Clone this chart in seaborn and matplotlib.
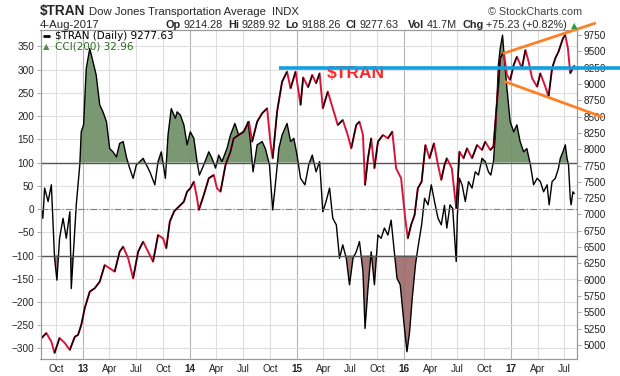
import numpy as np
import pandas as pd
import matplotlib
matplotlib.use("Agg")
import matplotlib.pyplot as plt
import matplotlib.dates as mdates
from matplotlib.collections import LineCollection
import seaborn as sns

# $TRAN daily close (roughly every 2 weeks)
price_dates = [
    "2012-08-12", "2012-08-29", "2012-09-15", "2012-09-26", "2012-10-13", "2012-10-31",
    "2012-11-17", "2012-12-04", "2012-12-15", "2012-12-26", "2013-01-07", "2013-01-24",
    "2013-02-10", "2013-02-27", "2013-03-16", "2013-04-02", "2013-04-19", "2013-05-06",
    "2013-05-18", "2013-06-04", "2013-06-21", "2013-07-08", "2013-07-25", "2013-08-11",
    "2013-08-28", "2013-09-14", "2013-10-01", "2013-10-12", "2013-10-24", "2013-11-08",
    "2013-11-24", "2013-12-11", "2013-12-22", "2014-01-02", "2014-01-14", "2014-01-25",
    "2014-01-31", "2014-02-17", "2014-03-06", "2014-03-23", "2014-04-03", "2014-04-15",
    "2014-05-02", "2014-05-19", "2014-05-30", "2014-06-16", "2014-07-03", "2014-07-21",
    "2014-08-01", "2014-08-18", "2014-09-04", "2014-09-21", "2014-10-02", "2014-10-10",
    "2014-10-25", "2014-11-11", "2014-11-28", "2014-12-10", "2014-12-27", "2015-01-13",
    "2015-01-22", "2015-02-08", "2015-02-22", "2015-03-07", "2015-03-19", "2015-03-30",
    "2015-04-16", "2015-05-03", "2015-05-20", "2015-06-06", "2015-06-23", "2015-07-05",
    "2015-07-22", "2015-08-02", "2015-08-14", "2015-08-21", "2015-08-31", "2015-09-11",
    "2015-09-22", "2015-10-04", "2015-10-21", "2015-11-07", "2015-11-22", "2015-12-05",
    "2015-12-22", "2016-01-05", "2016-01-14", "2016-01-25", "2016-02-06", "2016-02-17",
    "2016-03-01", "2016-03-14", "2016-03-28", "2016-04-12", "2016-04-26", "2016-05-07",
    "2016-05-18", "2016-05-26", "2016-06-12", "2016-06-27", "2016-07-08", "2016-07-22",
    "2016-08-03", "2016-08-20", "2016-09-06", "2016-09-23", "2016-10-04", "2016-10-21",
    "2016-11-01", "2016-11-13", "2016-11-18", "2016-11-24", "2016-12-06", "2016-12-17",
    "2016-12-28", "2017-01-09", "2017-01-20", "2017-02-06", "2017-02-18", "2017-03-01",
    "2017-03-13", "2017-03-30", "2017-04-10", "2017-04-27", "2017-05-08", "2017-05-20",
    "2017-05-31", "2017-06-11", "2017-06-26", "2017-07-04", "2017-07-13", "2017-07-21",
    "2017-07-29", "2017-08-04",
]
price_values = [
    5104, 5184, 5052, 4878, 5108, 5030,
    4925, 5128, 5154, 5307, 5567, 5818,
    5870, 5971, 6226, 6176, 6124, 6430,
    6507, 6329, 6022, 6430, 6584, 6430,
    6277, 6686, 6635, 6482, 6890, 7050,
    7120, 7196, 7350, 7401, 7503, 7248,
    7069, 7299, 7555, 7605, 7401, 7350,
    7758, 7962, 8167, 8218, 8269, 8422,
    8115, 8422, 8550, 8627, 8115, 7861,
    8575, 9035, 9188, 8933, 9188, 8678,
    9100, 8950, 9137, 9010, 9163, 8627,
    8882, 8627, 8371, 8448, 8218, 8014,
    8371, 8422, 8218, 7452, 7861, 8167,
    7708, 8115, 8218, 8167, 8269, 7708,
    7555, 6941, 6635, 6839, 6992, 7401,
    7503, 8065, 7861, 8091, 7758, 7529,
    7758, 7861, 7708, 7095, 7962, 7861,
    8014, 7861, 8065, 7988, 8115, 7988,
    8039, 8729, 8984, 9393, 9495, 9137,
    9061, 9290, 9418, 9240, 9520, 9341,
    9086, 8958, 9163, 8958, 8805, 9240,
    9393, 9495, 9699, 9750, 9546, 9163,
    9240, 9277.63,
]

# CCI(200)
cci_dates = [
    "2012-08-12", "2012-08-17", "2012-08-23", "2012-09-04", "2012-09-15", "2012-09-26",
    "2012-10-04", "2012-10-13", "2012-10-25", "2012-11-05", "2012-11-17", "2012-11-22",
    "2012-12-01", "2012-12-09", "2012-12-21", "2012-12-26", "2013-01-03", "2013-01-12",
    "2013-01-24", "2013-02-04", "2013-02-15", "2013-02-27", "2013-03-10", "2013-03-22",
    "2013-04-02", "2013-04-13", "2013-04-25", "2013-05-06", "2013-05-18", "2013-05-29",
    "2013-06-09", "2013-06-21", "2013-07-02", "2013-07-14", "2013-07-25", "2013-08-05",
    "2013-08-17", "2013-09-03", "2013-09-14", "2013-09-25", "2013-10-09", "2013-10-18",
    "2013-10-29", "2013-11-12", "2013-11-18", "2013-11-29", "2013-12-11", "2013-12-22",
    "2014-01-02", "2014-01-14", "2014-01-25", "2014-02-02", "2014-02-17", "2014-03-06",
    "2014-03-17", "2014-03-29", "2014-04-09", "2014-04-20", "2014-05-07", "2014-05-19",
    "2014-06-03", "2014-06-16", "2014-07-03", "2014-07-18", "2014-07-26", "2014-08-04",
    "2014-08-18", "2014-09-04", "2014-09-15", "2014-09-29", "2014-10-10", "2014-10-19",
    "2014-10-31", "2014-11-11", "2014-11-28", "2014-12-10", "2014-12-21", "2015-01-01",
    "2015-01-13", "2015-01-28", "2015-02-10", "2015-02-22", "2015-03-07", "2015-03-19",
    "2015-03-30", "2015-04-10", "2015-04-22", "2015-05-03", "2015-05-15", "2015-05-26",
    "2015-06-06", "2015-06-18", "2015-06-29", "2015-07-11", "2015-07-22", "2015-08-02",
    "2015-08-14", "2015-08-21", "2015-08-31", "2015-09-11", "2015-09-22", "2015-10-04",
    "2015-10-15", "2015-10-26", "2015-11-07", "2015-11-18", "2015-11-30", "2015-12-08",
    "2015-12-19", "2015-12-30", "2016-01-11", "2016-01-20", "2016-01-29", "2016-02-09",
    "2016-02-17", "2016-03-01", "2016-03-11", "2016-03-23", "2016-04-03", "2016-04-14",
    "2016-04-26", "2016-05-07", "2016-05-18", "2016-05-26", "2016-06-06", "2016-06-15",
    "2016-06-27", "2016-07-01", "2016-07-08", "2016-07-17", "2016-07-28", "2016-08-08",
    "2016-08-20", "2016-08-31", "2016-09-11", "2016-09-23", "2016-10-04", "2016-10-15",
    "2016-10-23", "2016-11-01", "2016-11-08", "2016-11-13", "2016-11-18", "2016-11-24",
    "2016-12-02", "2016-12-09", "2016-12-17", "2016-12-28", "2017-01-09", "2017-01-20",
    "2017-01-31", "2017-02-12", "2017-02-23", "2017-03-07", "2017-03-18", "2017-03-30",
    "2017-04-10", "2017-04-21", "2017-05-03", "2017-05-10", "2017-05-20", "2017-05-31",
    "2017-06-11", "2017-06-17", "2017-06-26", "2017-07-04", "2017-07-10", "2017-07-15",
    "2017-07-21", "2017-07-24", "2017-07-30", "2017-08-04",
]
cci_values = [
    1, -20, 45, 16, 52, -106,
    -153, -63, -20, -63, -6, -171,
    -77, 9, 95, 166, 181, 302,
    345, 317, 288, 224, 209, 188,
    130, 123, 112, 141, 145, 112,
    88, 66, 95, 102, 109, 95,
    80, 52, 102, 123, 66, 159,
    216, 195, 209, 202, 181, 138,
    166, 152, 102, 73, 95, 123,
    109, 88, 116, 102, 130, 159,
    184, 159, 166, 188, 145, 80,
    138, 145, 130, 95, -2, 52,
    130, 159, 184, 145, 152, 116,
    66, 52, 95, 116, 80, 102,
    -6, 16, 45, -20, -34, -106,
    -77, -106, -163, -106, -92, -70,
    -135, -257, -171, -92, -163, -56,
    -63, -41, -56, -24, -99, -149,
    -163, -235, -307, -264, -192, -120,
    -85, -34, 23, 9, 52, 16,
    -20, -34, 8, -41, 9, 1,
    -113, -13, 66, 52, 16, 59,
    45, 80, 73, 109, 102, 80,
    73, 102, 166, 238, 310, 345,
    374, 317, 260, 188, 166, 181,
    145, 123, 130, 95, 52, 66,
    59, 37, 52, 9, 59, 66,
    88, 109, 123, 138, 109, 95,
    23, 9, 37, 32.96,
]

# chartist's annotations (trend lines drawn on the price panel)
blue_level = 9240
blue_dates = ["2014-10-31", "2018-01-07"]
upper_dates = ["2016-12-06", "2017-10-13"]
upper_values = [9470, 9929]
lower_dates = ["2016-12-11", "2017-11-05"]
lower_values = [9035, 8498]

cci_ticks = list(range(-300, 351, 50))
price_ticks = list(range(5000, 9751, 250))
quarter_dates = pd.date_range("2012-10-01", "2017-07-01", freq="QS-JAN")
quarter_labels = ["Oct", "13", "Apr", "Jul", "Oct", "14", "Apr", "Jul", "Oct", "15",
                  "Apr", "Jul", "Oct", "16", "Apr", "Jul", "Oct", "17", "Apr", "Jul"]

# header quote line
quote_items = [("Op", "9214.28"), ("Hi", "9289.92"), ("Lo", "9188.26"), ("Cl", "9277.63"),
               ("Vol", "41.7M"), ("Chg", "+75.23 (+0.82%)")]

sns.set_style("white")
plt.rcParams["font.family"] = ["Liberation Sans", "DejaVu Sans"]

pr = pd.DataFrame({"date": pd.to_datetime(price_dates), "close": price_values})
cc = pd.DataFrame({"date": pd.to_datetime(cci_dates), "cci": cci_values})

W, H = 620, 376
fig = plt.figure(figsize=(W / 100, H / 100), dpi=100)
L, R, T, B = 40.5, 577, 30, 359
ax = fig.add_axes([L / W, 1 - B / H, (R - L) / W, (B - T) / H])
ax2 = ax.twinx()

green = "#6f9066"
brown = "#a06c6c"
red = "#d8143a"

# CCI panel (left axis)
ax.fill_between(cc["date"], cc["cci"], 100, where=cc["cci"] > 100, interpolate=True,
                color=green, alpha=0.92, lw=0)
ax.fill_between(cc["date"], cc["cci"], -100, where=cc["cci"] < -100, interpolate=True,
                color=brown, alpha=0.92, lw=0)
sns.lineplot(data=cc, x="date", y="cci", ax=ax, color="black", lw=1.0)
ax.axhline(100, color="#555555", lw=1.0)
ax.axhline(-100, color="#555555", lw=1.0)
ax.axhline(0, color="#808080", lw=0.8, ls=(0, (6, 2, 1, 2)))

# price (right axis): red line, black on up moves
sns.lineplot(data=pr, x="date", y="close", ax=ax2, color=red, lw=1.4)
xs = mdates.date2num(pr["date"].values)
pts = np.column_stack([xs, pr["close"].values])
segs = np.stack([pts[:-1], pts[1:]], axis=1)
up = np.diff(pr["close"].values) > 0
ax2.add_collection(LineCollection(segs[up], colors="black", lw=1.0))

ax2.plot(pd.to_datetime(blue_dates), [blue_level, blue_level], color="#109fe0", lw=2.6,
         clip_on=False, zorder=6, solid_capstyle="butt")
ax2.plot(pd.to_datetime(upper_dates), upper_values, color="#ff8024", lw=2.0,
         clip_on=False, zorder=6)
ax2.plot(pd.to_datetime(lower_dates), lower_values, color="#ff8024", lw=2.0,
         clip_on=False, zorder=6)
ax2.text((326.7 - L) / (R - L), (B - 78) / (B - T), r"\$TRAN", transform=ax2.transAxes,
         color="#ff2626", fontsize=12.5, fontweight="bold", va="baseline", ha="left")

# axes, ticks, grid
ax.set_xlim(pd.Timestamp("2012-08-09"), pd.Timestamp("2017-08-13"))
ax.set_ylim(-322.6, 385)
ax2.set_ylim(4786, 9826.6)
ax.set_yticks(cci_ticks)
ax2.set_yticks(price_ticks)
ax.set_xticks(quarter_dates)
ax.set_xticklabels(quarter_labels)
for lab in ax.get_xticklabels():
    if lab.get_text().isdigit():
        lab.set_fontweight("bold")
for a in (ax, ax2):
    a.set_xlabel("")
    a.set_ylabel("")
    for sp in a.spines.values():
        sp.set_color("#999999")
        sp.set_linewidth(0.8)
ax.tick_params(axis="y", labelsize=7.2, length=3, width=0.6, color="#999999",
               labelcolor="#222222", pad=1.5, left=True)
ax2.tick_params(axis="y", labelsize=7.2, length=3, width=0.6, color="#999999",
                labelcolor="#222222", pad=2, right=True)
ax.tick_params(axis="x", labelsize=7.2, length=0, labelcolor="#222222", pad=3.5)

ax.grid(True, color="#dedede", lw=0.8)
ax.set_axisbelow(True)
for gl, d in zip(ax.get_xgridlines(), quarter_dates):
    if d.month == 1:
        gl.set_color("#b4b4b4")

# legend inside the plot
ax.plot([0.0047, 0.0177], [0.9827, 0.9827], transform=ax.transAxes, color="black", lw=2,
        solid_capstyle="butt")
ax.text(0.027, 0.9827, r"\$TRAN (Daily) 9277.63", transform=ax.transAxes, va="center",
        ha="left", fontsize=7.5, family="DejaVu Sans", color="black")
ax.text(0.0047, 0.949, "▲", transform=ax.transAxes, va="center", ha="left",
        fontsize=6, family="DejaVu Sans", color="#5f8457")
ax.text(0.027, 0.949, "CCI(200) 32.96", transform=ax.transAxes, va="center",
        ha="left", fontsize=7.5, family="DejaVu Sans", color="#2e6b1f")


# header
def px(x, y):
    return x / W, 1 - y / H


renderer = fig.canvas.get_renderer()
t = fig.text(*px(40, 15), r"\$TRAN", fontsize=9.8, fontweight="bold", va="baseline")
hx = 40 + t.get_window_extent(renderer).width + 4
t = fig.text(*px(hx, 15), "Dow Jones Transportation Average", fontsize=8.2, va="baseline")
hx += t.get_window_extent(renderer).width + 6
fig.text(*px(hx, 15), "INDX", fontsize=8.2, va="baseline")
fig.text(*px(582, 15), "© StockCharts.com", fontsize=7.8, va="baseline", ha="right",
         color="#444444")
fig.text(*px(40, 28), "4-Aug-2017", fontsize=8.2, va="baseline")

hx = 166
for name, val in quote_items:
    t = fig.text(*px(hx, 28), name, fontsize=7.8, fontweight="bold", va="baseline")
    hx += t.get_window_extent(renderer).width + 2.5
    t = fig.text(*px(hx, 28), val, fontsize=7.8, va="baseline")
    hx += t.get_window_extent(renderer).width + (10 if name == "Cl" else 5)
fig.text(*px(hx - 1, 28), "▲", fontsize=6, va="baseline", family="DejaVu Sans",
         color="#2e9a3a")

fig.savefig("out.png", dpi=100)
